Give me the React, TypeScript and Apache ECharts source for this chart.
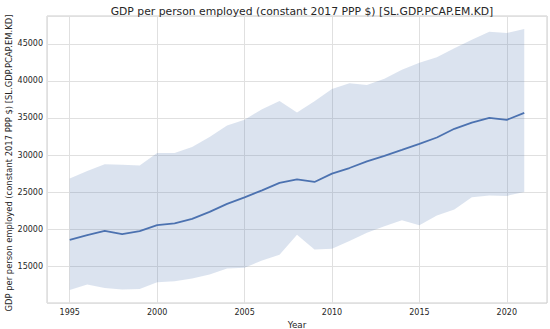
import React, { useEffect, useRef } from "react";
import * as echarts from "echarts";

const years = [1995, 1996, 1997, 1998, 1999, 2000, 2001, 2002, 2003, 2004, 2005, 2006, 2007, 2008, 2009, 2010, 2011, 2012, 2013, 2014, 2015, 2016, 2017, 2018, 2019, 2020, 2021];
const meanValues = [18550, 19190, 19780, 19330, 19730, 20540, 20770, 21400, 22340, 23410, 24300, 25240, 26240, 26720, 26370, 27490, 28250, 29140, 29900, 30700, 31520, 32370, 33540, 34380, 35010, 34750, 35690];
const upperValues = [26850, 27850, 28750, 28700, 28600, 30270, 30270, 31080, 32420, 34000, 34750, 36190, 37300, 35730, 37250, 38900, 39700, 39450, 40300, 41510, 42450, 43200, 44410, 45540, 46650, 46470, 47000];
const lowerValues = [11800, 12530, 12070, 11850, 11940, 12840, 12970, 13330, 13870, 14680, 14810, 15790, 16560, 19250, 17270, 17360, 18390, 19510, 20400, 21210, 20540, 21840, 22650, 24300, 24530, 24490, 25030];

const TITLE = "GDP per person employed (constant 2017 PPP $) [SL.GDP.PCAP.EM.KD]";
const X_NAME = "Year";
const Y_NAME = "GDP per person employed (constant 2017 PPP $) [SL.GDP.PCAP.EM.KD]";

export default function App() {
  const ref = useRef<HTMLDivElement>(null);

  useEffect(() => {
    if (!ref.current) return;
    const chart = echarts.init(ref.current, undefined, { renderer: "svg" });

    const xSpan = years[years.length - 1] - years[0];
    const xMin = years[0] - 0.05 * xSpan;
    const xMax = years[years.length - 1] + 0.05 * xSpan;
    const yLo = Math.min(...lowerValues);
    const yHi = Math.max(...upperValues);
    const ySpan = yHi - yLo;
    const yMin = yLo - 0.05 * ySpan;
    const yMax = yHi + 0.05 * ySpan;

    const font = "DejaVu Sans";
    const textColor = "#262626";
    const gridColor = "#e0e0e0";

    chart.setOption({
      animation: false,
      backgroundColor: "#ffffff",
      textStyle: { fontFamily: font },
      title: {
        text: TITLE,
        left: 297,
        top: 1,
        textAlign: "center",
        textStyle: { fontFamily: font, fontSize: 10.8, fontWeight: "normal", color: textColor },
      },
      graphic: [
        {
          type: "text",
          x: 8.5,
          y: 163,
          rotation: Math.PI / 2,
          silent: true,
          style: {
            text: Y_NAME,
            fontFamily: font,
            fontSize: 8.4,
            fill: textColor,
            align: "center",
            verticalAlign: "middle",
          },
        },
      ],
      grid: {
        left: 47,
        right: 3,
        top: 16,
        bottom: 26,
        outerBoundsMode: "none",
        containLabel: false,
        show: true,
        borderColor: "#cccccc",
        borderWidth: 1,
        backgroundColor: "transparent",
      },
      xAxis: {
        type: "value",
        min: xMin,
        max: xMax,
        splitNumber: 5,
        name: X_NAME,
        nameLocation: "middle",
        nameGap: 12.5,
        nameTextStyle: { fontFamily: font, fontSize: 8.8, color: textColor },
        axisLine: { show: false },
        axisTick: { show: false },
        axisLabel: {
          showMinLabel: false,
          showMaxLabel: false,
          margin: 5,
          fontFamily: font,
          fontSize: 8,
          color: textColor,
          formatter: (v: number) => String(Math.round(v)),
        },
        splitLine: { show: true, lineStyle: { color: gridColor, width: 1 } },
      },
      yAxis: {
        type: "value",
        min: yMin,
        max: yMax,
        splitNumber: 8,
        axisLine: { show: false },
        axisTick: { show: false },
        axisLabel: {
          showMinLabel: false,
          showMaxLabel: false,
          margin: 4,
          fontFamily: font,
          fontSize: 8,
          color: textColor,
          formatter: (v: number) => String(Math.round(v)),
        },
        splitLine: { show: true, lineStyle: { color: gridColor, width: 1 } },
      },
      series: [
        {
          type: "custom",
          silent: true,
          z: 1,
          data: years.map((y, i) => [y, lowerValues[i], upperValues[i]]),
          encode: { x: 0, y: [1, 2] },
          renderItem: (params: any, api: any) => {
            if (params.dataIndex !== 0) return { type: "group", children: [] };
            const pts: number[][] = [];
            for (let i = 0; i < years.length; i++) pts.push(api.coord([years[i], upperValues[i]]));
            for (let i = years.length - 1; i >= 0; i--) pts.push(api.coord([years[i], lowerValues[i]]));
            return {
              type: "polygon",
              shape: { points: pts },
              style: { fill: "rgba(76,114,176,0.2)", stroke: "none" },
            };
          },
        },
        {
          type: "line",
          z: 3,
          showSymbol: false,
          symbol: "none",
          data: years.map((y, i) => [y, meanValues[i]]),
          lineStyle: { color: "#4c72b0", width: 1.8 },
          itemStyle: { color: "#4c72b0" },
        },
      ],
    });

    return () => chart.dispose();
  }, []);

  return (
    <div
      ref={ref}
      style={{ position: "fixed", left: 0, top: 0, width: 550, height: 329 }}
    />
  );
}
